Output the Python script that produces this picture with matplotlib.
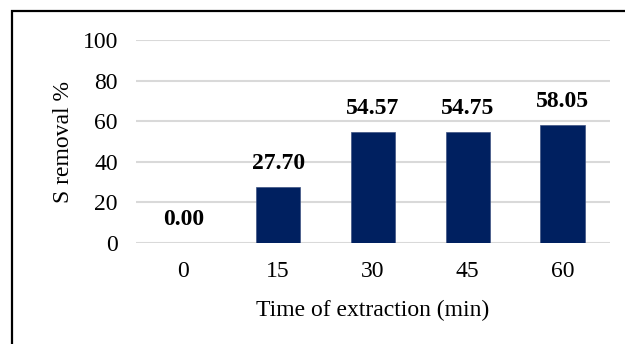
import matplotlib.pyplot as plt
from matplotlib.patches import Rectangle

# extraction time (min) vs sulfur removal
times = ['0', '15', '30', '45', '60']
removal = [0.00, 27.70, 54.57, 54.75, 58.05]

BAR_COLOR = '#002060'
GRID_COLOR = '#d9d9d9'
FS = 17

plt.rcParams['font.family'] = ['Liberation Serif', 'DejaVu Serif']

fig = plt.figure(figsize=(6.25, 3.44), dpi=100)
ax = fig.add_axes([0.2176, 0.2936, 0.7584, 0.5901])

x = range(len(times))
bars = ax.bar(x, removal, width=0.47, color=BAR_COLOR, edgecolor='#3d5282',
              linewidth=0.5, zorder=3)

for xi, val in zip(x, removal):
    ax.annotate(f'{val:.2f}', (xi, val), xytext=(0, 17), textcoords='offset points',
                ha='center', va='center', fontsize=FS, fontweight='bold')

ax.set_xlim(-0.5, len(times) - 0.5)
ax.set_ylim(0, 100)
ax.set_yticks(range(0, 101, 20))
ax.set_xticks(list(x))
ax.set_xticklabels(times)
ax.tick_params(axis='both', length=0, labelsize=FS)
ax.tick_params(axis='y', pad=13)
ax.tick_params(axis='x', pad=13)

ax.grid(axis='y', color=GRID_COLOR, linewidth=1.5, zorder=0)
for s in ax.spines.values():
    s.set_visible(False)

ax.set_xlabel('Time of extraction (min)', fontsize=FS, labelpad=13)
ax.set_ylabel('S removal %', fontsize=FS)
ax.yaxis.set_label_coords(-0.131, 0.5)

# chart frame (runs off the right and bottom edges)
fig.patches.append(Rectangle((12 / 625, -0.2), 1.2, 1 - 11 / 344 + 0.2,
                             transform=fig.transFigure, fill=False,
                             edgecolor='black', linewidth=1.6))

fig.savefig('out.png', dpi=100)
